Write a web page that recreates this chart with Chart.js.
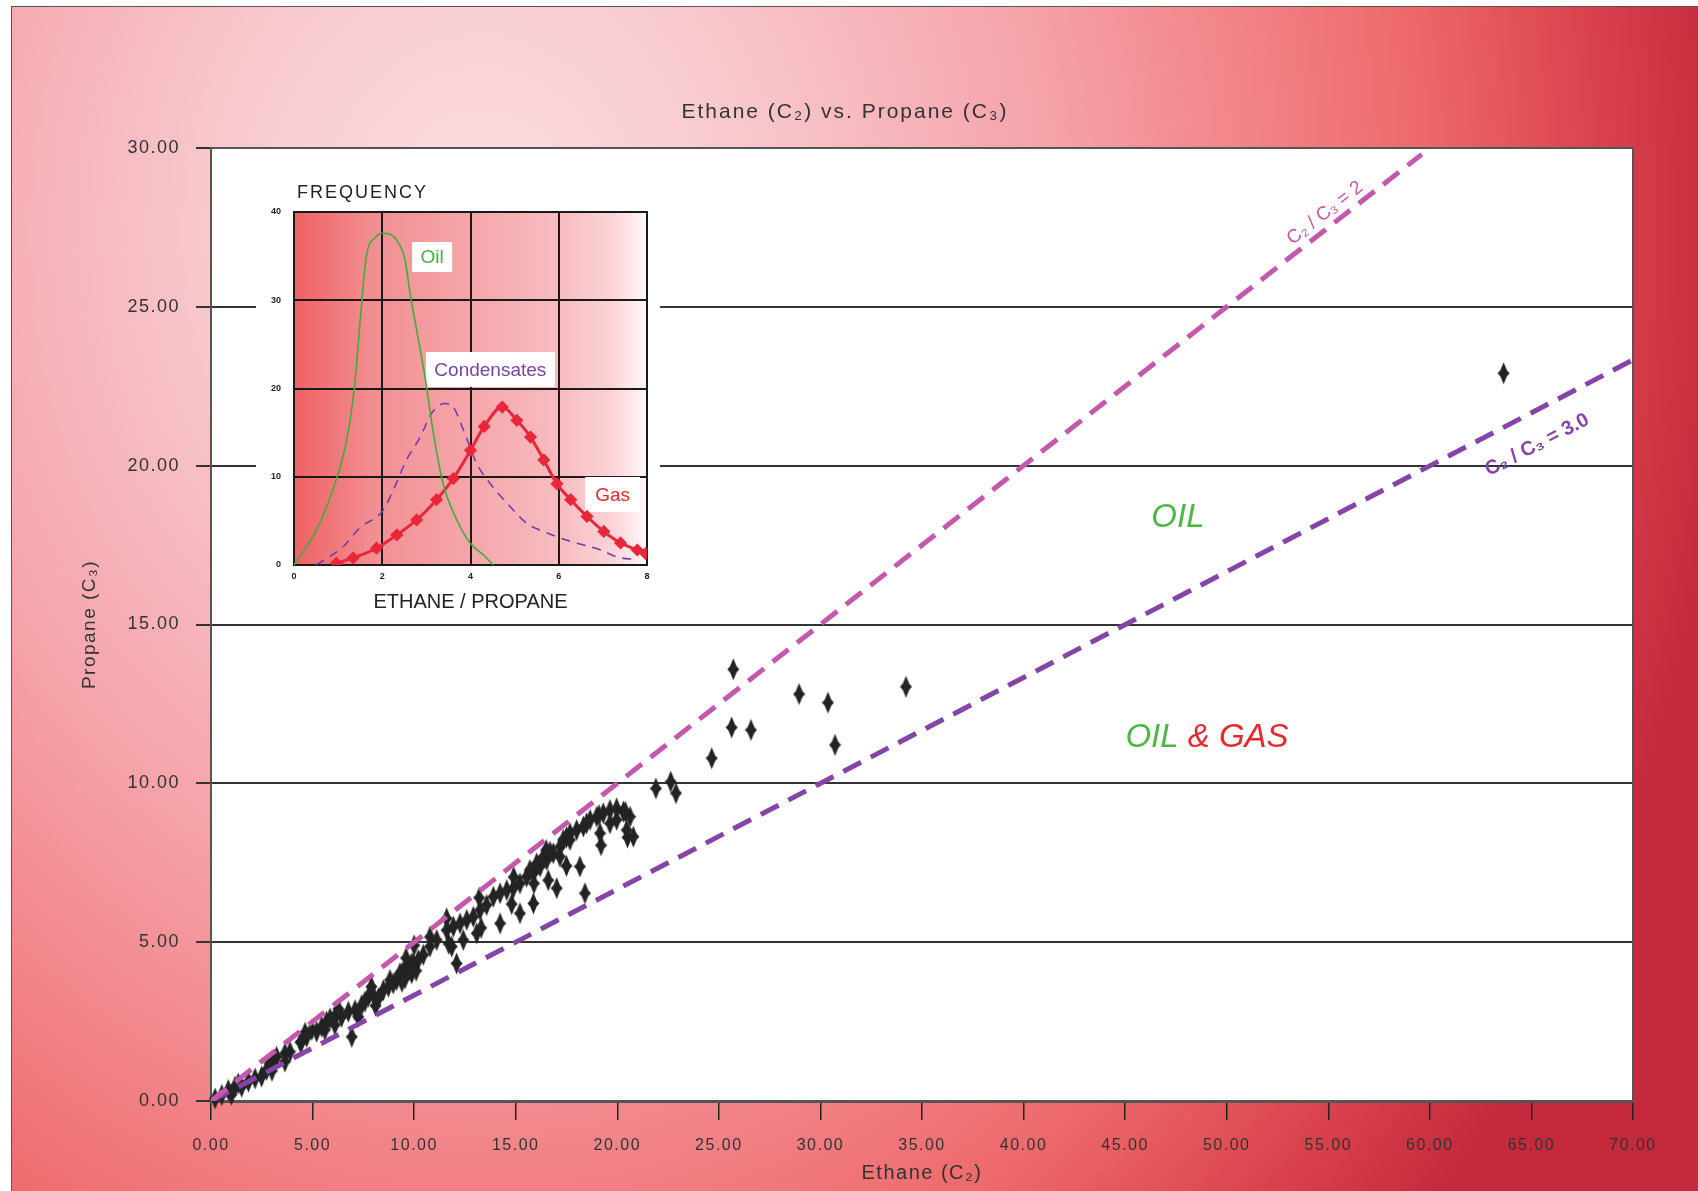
<!DOCTYPE html>
<html>
<head>
<meta charset="utf-8">
<script src="https://cdn.jsdelivr.net/npm/chart.js@4.4.1/dist/chart.umd.min.js"></script>
<style>
  html, body { margin: 0; padding: 0; background: #fff; }
  body { width: 1698px; height: 1191px; position: relative; overflow: hidden; }
  #bg {
    position: absolute; left: 11px; top: 6px; right: 0; bottom: 0;
    border-top: 1.5px solid #555; border-left: 1.5px solid #555;
    background: radial-gradient(ellipse 1250px 1500px at 470px 225px,
      #fbdfe2 0%, #f8c8cd 22%, #f5a4aa 45%, #f28388 62%, #ee6a6b 75%, #dc4650 88%, #c42a3c 100%);
  }
  #mainChart { position: absolute; left: 0; top: 0; }
  #insetBox { position: absolute; left: 256px; top: 160px; width: 404px; height: 458px; background: #fff; }
  #insetChart { position: absolute; left: 0; top: 0; }
</style>
</head>
<body>
<div id="bg"></div>
<canvas id="mainChart" width="1698" height="1191"></canvas>
<div id="insetBox"><canvas id="insetChart" width="404" height="458"></canvas></div>

<script>
// ---- main chart data ----
const scatterC2 = [
  0.2, 0.53, 0.85, 1.18, 1.51, 1.84, 2.17, 2.49, 2.74, 2.9, 3.23, 3.64, 3.89, 3.64,
  4.46, 4.71, 4.96, 5.2, 5.45, 5.61, 5.69, 5.86, 6.19, 6.43, 6.76, 6.93, 7.09, 7.25,
  7.42, 7.58, 7.74, 7.99, 8.24, 8.48, 8.73, 8.97, 9.14, 9.39, 9.55, 9.55, 9.88, 9.88,
  10.2, 10.45, 8.81, 9.3, 9.63, 9.96, 10.78, 11.11, 11.6, 11.93, 12.26, 12.59, 12.91,
  12.09, 12.42, 13.24, 13.57, 13.9, 14.23, 14.23, 14.56, 14.88, 15.21, 15.54, 15.87,
  16.2, 16.53, 16.85, 17.18, 17.02, 15.87, 15.21, 11.85, 13.08, 10.78,
  15.7, 16.03, 16.36, 16.69, 17.34, 17.67, 18.0, 18.33, 18.66, 18.99, 19.31, 19.64,
  19.97, 20.3, 20.63, 20.79, 18.41, 18.16, 18.49, 19.15, 19.64, 19.97, 20.46, 17.67, 17.18,
  // upper / lower edges of the dense band
  1.34, 1.0, 3.0, 3.0, 4.63, 4.4, 6.27, 6.1, 7.9, 8.1, 9.6, 9.4, 10.0, 10.1,
  11.6, 11.7, 13.2, 13.3, 14.9, 14.8, 16.5, 16.6, 15.9, 17.5, 17.5, 19.1, 19.2, 20.4, 20.5,
  // scattered samples
  21.9, 22.63, 22.89, 24.65, 25.63, 26.58, 25.71, 28.95, 30.37, 30.72, 34.21, 63.63
];
const scatterC3 = [
  0.08, 0.19, 0.35, 0.45, 0.45, 0.61, 0.71, 0.77, 0.98, 1.19, 1.39, 1.5, 1.55, 1.24,
  1.87, 2.02, 2.24, 2.18, 2.34, 2.24, 2.5, 2.6, 2.76, 2.65, 2.81, 2.02, 2.86, 2.65,
  3.02, 3.13, 3.28, 3.34, 3.23, 3.49, 3.6, 3.7, 3.81, 4.02, 4.18, 3.86, 4.33, 4.02,
  4.44, 4.6, 3.81, 4.02, 4.23, 4.33, 4.86, 5.07, 5.38, 5.49, 5.59, 5.7, 5.8,
  4.33, 5.07, 6.01, 6.17, 6.43, 6.54, 5.59, 6.64, 6.7, 6.85, 7.06, 7.17,
  7.38, 7.59, 7.8, 8.0, 6.7, 6.22, 5.91, 4.86, 5.28, 5.17,
  7.27, 7.48, 7.69, 7.85, 8.22, 8.43, 8.53, 8.64, 8.85, 8.95, 9.06, 9.16,
  9.21, 9.11, 8.95, 8.32, 6.54, 7.38, 8.74, 8.43, 8.74, 8.85, 8.53, 8.22, 7.69,
  0.55, 0.2, 1.25, 0.95, 2.15, 1.85, 2.9, 2.4, 3.6, 3.0, 4.5, 3.75, 4.9, 4.1,
  5.75, 4.95, 6.4, 5.45, 7.05, 6.2, 7.9, 6.95, 6.85, 8.3, 7.4, 9.0, 8.05, 9.1, 8.3,
  9.84, 10.05, 9.69, 10.79, 11.76, 11.68, 13.59, 12.81, 12.54, 11.21, 13.04, 22.91
];
// ratio lines C2/C3 = 2 and C2/C3 = 3.0
const ratio2C2 = [0, 59.6];
const ratio2C3 = [0, 29.8];
const ratio3C2 = [0, 70];
const ratio3C3 = [0, 23.33];

const xTickLabels = ['0.00', '5.00', '10.00', '15.00', '20.00', '25.00', '30.00', '35.00',
                     '40.00', '45.00', '50.00', '55.00', '60.00', '65.00', '70.00'];
const yTickLabels = ['0.00', '5.00', '10.00', '15.00', '20.00', '25.00', '30.00'];

// ---- inset (frequency vs ethane/propane) ----
const oilX = [0, 0.51, 0.88, 1.18, 1.37, 1.52, 1.63, 1.86, 2.02, 2.33, 2.52, 2.63, 2.78, 2.97, 3.16, 3.38, 3.69, 3.99, 4.3, 4.52];
const oilY = [0, 3.96, 8.5, 13.8, 20.2, 28.9, 34.7, 37.2, 37.6, 36.8, 34.5, 30.8, 26.6, 21.3, 14.9, 9.2, 5.1, 2.5, 1.1, 0];
const condX = [0.5, 1.1, 1.49, 2.02, 2.25, 2.55, 2.86, 3.12, 3.42, 3.61, 3.84, 4.14, 4.45, 4.83, 5.28, 5.66, 6.19, 6.95, 7.33, 7.78];
const condY = [0, 2, 4.2, 6.2, 8.5, 11.9, 14.5, 17.2, 18.3, 17.9, 15.3, 11.5, 9.2, 7.0, 4.7, 3.8, 2.8, 1.7, 0.9, 0.6];
const gasX = [0.96, 1.34, 1.87, 2.33, 2.78, 3.23, 3.61, 4.0, 4.31, 4.72, 5.05, 5.36, 5.66, 5.96, 6.27, 6.64, 7.02, 7.4, 7.78, 7.97];
const gasY = [0.2, 0.8, 1.9, 3.4, 5.1, 7.4, 9.8, 13, 15.7, 17.9, 16.4, 14.5, 11.9, 9.2, 7.4, 5.5, 3.8, 2.5, 1.7, 1.3];
const insetTickX = [0, 2, 4, 6, 8];
const insetTickY = [0, 10, 20, 30, 40];

const toPoints = (xs, ys) => xs.map((x, i) => ({ x: x, y: ys[i] }));

Chart.defaults.font.family = "'Liberation Sans', Arial, sans-serif";
Chart.defaults.animation = false;

// black elongated diamond used for the samples
function makeDiamond() {
    const c = document.createElement('canvas');
    c.width = 13; c.height = 23;
    const g = c.getContext('2d');
    g.fillStyle = '#232323';
    g.beginPath();
    g.moveTo(6.5, 0.5); g.lineTo(9.8, 8.5); g.lineTo(12.5, 11.5); g.lineTo(9.8, 14.5);
    g.lineTo(6.5, 22.5); g.lineTo(3.2, 14.5); g.lineTo(0.5, 11.5); g.lineTo(3.2, 8.5);
    g.closePath();
    g.fill();
    return c;
}

function drawRotatedLabel(chart, text, x, y, ratio, font, color) {
    const { ctx, scales } = chart;
    const xs = scales.x, ys = scales.y;
    const ang = Math.atan2(ys.getPixelForValue(10 / ratio) - ys.getPixelForValue(0),
                           xs.getPixelForValue(10) - xs.getPixelForValue(0));
    ctx.save();
    ctx.translate(xs.getPixelForValue(x), ys.getPixelForValue(y));
    ctx.rotate(ang);
    ctx.font = font;
    ctx.fillStyle = color;
    ctx.textAlign = 'center';
    ctx.textBaseline = 'middle';
    ctx.fillText(text, 0, 0);
    ctx.restore();
}

const plotDecor = {
    id: 'plotDecor',
    beforeDraw(chart) {
        const { ctx, chartArea: a } = chart;
        ctx.save();
        ctx.fillStyle = '#ffffff';
        ctx.fillRect(a.left, a.top, a.right - a.left, a.bottom - a.top);
        ctx.restore();
        ctx.letterSpacing = '1.5px';
    },
    afterDatasetsDraw(chart) {
        const { ctx, chartArea: a, scales } = chart;
        ctx.letterSpacing = '0px';
        // top / right frame of the plot
        ctx.save();
        ctx.strokeStyle = '#555';
        ctx.lineWidth = 2;
        ctx.beginPath();
        ctx.moveTo(a.left, a.top);
        ctx.lineTo(a.right, a.top);
        ctx.lineTo(a.right, a.bottom);
        ctx.stroke();
        ctx.restore();

        drawRotatedLabel(chart, 'C₂ / C₃ = 2', 54.84, 27.95, 2, '19px "Liberation Sans"', '#c458ac');
        drawRotatedLabel(chart, 'C₂ / C₃ = 3.0', 65.28, 20.65, 3, 'bold 20px "Liberation Sans"', '#8644a8');

        // region labels
        ctx.save();
        ctx.font = 'italic 33px "Liberation Sans"';
        ctx.textBaseline = 'middle';
        ctx.textAlign = 'center';
        ctx.fillStyle = '#4cb844';
        ctx.fillText('OIL', scales.x.getPixelForValue(47.6), scales.y.getPixelForValue(18.35));

        const gx = scales.x.getPixelForValue(49.03), gy = scales.y.getPixelForValue(11.43);
        const p1 = 'OIL ', p2 = '& GAS';
        const w1 = ctx.measureText(p1).width, w2 = ctx.measureText(p2).width;
        ctx.textAlign = 'left';
        ctx.fillText(p1, gx - (w1 + w2) / 2, gy);
        ctx.fillStyle = '#e8282e';
        ctx.fillText(p2, gx - (w1 + w2) / 2 + w1, gy);
        ctx.restore();
    },
    afterDraw(chart) {
        const ctx = chart.ctx;
        ctx.save();
        ctx.letterSpacing = '2px';
        ctx.font = '21px "Liberation Sans"';
        ctx.fillStyle = '#333';
        ctx.textAlign = 'center';
        ctx.textBaseline = 'middle';
        ctx.fillText('Ethane (C₂) vs. Propane (C₃)', 845, 112);
        ctx.restore();
        ctx.letterSpacing = '0px';
    }
};

new Chart(document.getElementById('mainChart'), {
    type: 'scatter',
    data: {
        datasets: [
            {
                data: toPoints(ratio2C2, ratio2C3),
                showLine: true,
                borderColor: '#c458ac',
                borderWidth: 5,
                borderDash: [20, 11],
                pointRadius: 0
            },
            {
                data: toPoints(ratio3C2, ratio3C3),
                showLine: true,
                borderColor: '#8644a8',
                borderWidth: 5,
                borderDash: [20, 11],
                pointRadius: 0
            },
            {
                data: toPoints(scatterC2, scatterC3),
                pointStyle: makeDiamond(),
                pointRadius: 6,
                clip: false
            }
        ]
    },
    options: {
        responsive: false,
        layout: { padding: { left: 70, top: 148, right: 65, bottom: 0 } },
        plugins: { legend: { display: false }, tooltip: { enabled: false } },
        scales: {
            x: {
                type: 'linear',
                min: 0, max: 70,
                ticks: {
                    stepSize: 5, padding: 16, color: '#333', maxRotation: 0, autoSkip: false,
                    font: { size: 16 },
                    callback: (v, i) => xTickLabels[i]
                },
                grid: { drawOnChartArea: false, tickLength: 19, color: '#222', lineWidth: 1.5 },
                border: { color: '#555', width: 3 },
                title: {
                    display: true, text: 'Ethane (C₂)', color: '#333',
                    font: { size: 20 }, padding: { top: 0, bottom: 6 }
                },
                afterFit: (s) => { s.height = 90; }
            },
            y: {
                min: 0, max: 30,
                ticks: {
                    stepSize: 5, padding: 16, color: '#333',
                    font: { size: 18 },
                    callback: (v, i) => yTickLabels[i]
                },
                grid: { color: '#333', lineWidth: 2, tickLength: 15 },
                border: { color: '#555', width: 2 },
                title: {
                    display: true, text: 'Propane (C₃)', color: '#333',
                    font: { size: 19 }, padding: { top: 8, bottom: 0 }
                },
                afterFit: (s) => { s.width = 141; }
            }
        }
    },
    plugins: [plotDecor]
});

// ---- inset ----
const insetLabels = [
    { text: 'Oil', x: 3.13, y: 34.9, w: 40, h: 30, color: '#44b03c' },
    { text: 'Condensates', x: 4.45, y: 22.15, w: 129, h: 35, color: '#7a3fa8' },
    { text: 'Gas', x: 7.22, y: 7.99, w: 55, h: 35, color: '#e52a2a' }
];

const insetDecor = {
    id: 'insetDecor',
    beforeDraw(chart) {
        const { ctx, chartArea: a } = chart;
        const grad = ctx.createLinearGradient(a.left, 0, a.right, 0);
        grad.addColorStop(0, '#ef6163');
        grad.addColorStop(0.22, '#f28e92');
        grad.addColorStop(0.5, '#f5a6aa');
        grad.addColorStop(0.75, '#f8bcc0');
        grad.addColorStop(0.9, '#fad3d6');
        grad.addColorStop(1, '#fff8f8');
        ctx.save();
        ctx.fillStyle = grad;
        ctx.fillRect(a.left, a.top, a.right - a.left, a.bottom - a.top);
        ctx.restore();
    },
    beforeDatasetsDraw(chart) {
        const { ctx, chartArea: a, scales } = chart;
        ctx.save();
        ctx.strokeStyle = '#1a1a1a';
        ctx.lineWidth = 2;
        ctx.strokeRect(a.left, a.top, a.right - a.left, a.bottom - a.top);

        ctx.font = '19px "Liberation Sans"';
        ctx.textAlign = 'center';
        ctx.textBaseline = 'middle';
        insetLabels.forEach(l => {
            const cx = scales.x.getPixelForValue(l.x), cy = scales.y.getPixelForValue(l.y);
            ctx.fillStyle = '#ffffff';
            ctx.fillRect(cx - l.w / 2, cy - l.h / 2, l.w, l.h);
            ctx.fillStyle = l.color;
            ctx.fillText(l.text, cx, cy + 1);
        });

        ctx.letterSpacing = '2px';
        ctx.font = '18px "Liberation Sans"';
        ctx.fillStyle = '#222';
        ctx.textAlign = 'left';
        ctx.fillText('FREQUENCY', a.left + 3, a.top - 19);
        ctx.restore();
    }
};

new Chart(document.getElementById('insetChart'), {
    type: 'line',
    data: {
        datasets: [
            {
                data: toPoints(oilX, oilY),
                borderColor: '#3fae38',
                borderWidth: 1.6,
                pointRadius: 0,
                cubicInterpolationMode: 'monotone'
            },
            {
                data: toPoints(gasX, gasY),
                borderColor: '#e8283a',
                backgroundColor: '#e8283a',
                borderWidth: 3,
                pointStyle: 'rectRot',
                pointRadius: 4.5,
                cubicInterpolationMode: 'monotone'
            },
            {
                data: toPoints(condX, condY),
                borderColor: '#6f3fb0',
                borderWidth: 1.6,
                borderDash: [9, 7],
                pointRadius: 0,
                cubicInterpolationMode: 'monotone'
            }
        ]
    },
    options: {
        responsive: false,
        layout: { padding: { left: 0, top: 52, right: 13, bottom: 0 } },
        plugins: { legend: { display: false }, tooltip: { enabled: false } },
        scales: {
            x: {
                type: 'linear',
                min: 0, max: 8,
                afterBuildTicks: (s) => { s.ticks = insetTickX.map(v => ({ value: v })); },
                ticks: { padding: 6, color: '#222', font: { size: 9, weight: 'bold' }, maxRotation: 0 },
                grid: { color: '#1a1a1a', lineWidth: 2, drawTicks: false },
                border: { color: '#1a1a1a', width: 2 },
                title: {
                    display: true, text: 'ETHANE / PROPANE', color: '#222',
                    font: { size: 20 }, padding: { top: 0, bottom: 4 }
                },
                afterFit: (s) => { s.height = 53; }
            },
            y: {
                min: 0, max: 40,
                afterBuildTicks: (s) => { s.ticks = insetTickY.map(v => ({ value: v })); },
                ticks: { padding: 13, color: '#222', font: { size: 9, weight: 'bold' } },
                grid: { color: '#1a1a1a', lineWidth: 2, drawTicks: false },
                border: { color: '#1a1a1a', width: 2 },
                afterFit: (s) => { s.width = 38; }
            }
        }
    },
    plugins: [insetDecor]
});
</script>
</body>
</html>
